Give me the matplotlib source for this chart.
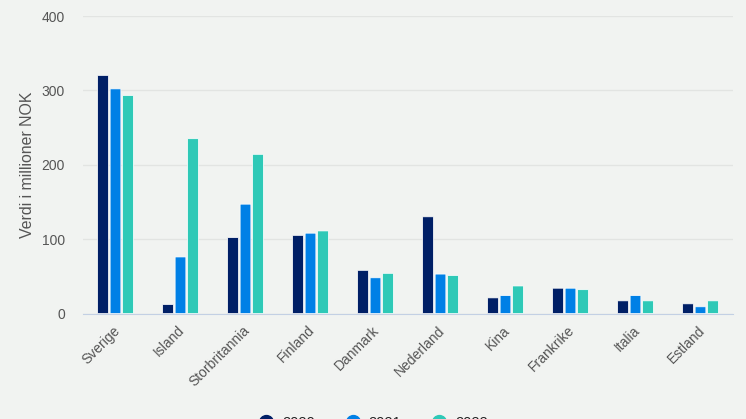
import numpy as np
import matplotlib.pyplot as plt
from matplotlib.transforms import ScaledTranslation

plt.rcParams['font.family'] = ['Liberation Sans', 'DejaVu Sans']

land = ['Sverige', 'Island', 'Storbritannia', 'Finland', 'Danmark',
        'Nederland', 'Kina', 'Frankrike', 'Italia', 'Estland']
v2020 = [320, 12, 102, 105, 58, 130, 21, 34, 17, 13]
v2021 = [302, 76, 147, 108, 48, 53, 24, 34, 24, 9]
v2022 = [293, 235, 214, 111, 54, 51, 37, 32, 17, 17]
serier = ['2020', '2021', '2022']
farger = ['#001f66', '#0080e6', '#2ec9b7']
bg = '#f1f3f1'

W, H = 746, 419
fig = plt.figure(figsize=(W / 100, H / 100), dpi=100, facecolor=bg)
ax = fig.add_axes([83 / W, 1 - 313.5 / H, 650 / W, 297.5 / H], facecolor=bg)

x = np.arange(len(land))
bredde = 0.165
steg = 0.192
for i, (verdier, farge) in enumerate(zip([v2020, v2021, v2022], farger)):
    ax.bar(x + (i - 1) * steg, verdier, bredde, color=farge, edgecolor='white',
           linewidth=0.5, label=serier[i], zorder=3, snap=False)

ax.set_xlim(-0.5, 9.5)
ax.set_ylim(0, 400)
ax.set_yticks([0, 100, 200, 300, 400])
ax.yaxis.grid(True, color='#e2e4e2', linewidth=1)
ax.set_axisbelow(True)
for s in ['top', 'right', 'left']:
    ax.spines[s].set_visible(False)
ax.spines['bottom'].set_color('#c3d0e4')
ax.spines['bottom'].set_zorder(4)

ax.tick_params(axis='y', length=0, pad=13, labelsize=10, labelcolor='#555555')
ax.tick_params(axis='x', length=0, pad=7, labelsize=10, labelcolor='#555555')
ax.set_xticks(x)
ax.set_xticklabels(land, rotation=45, ha='right', rotation_mode='anchor')
flytt = ScaledTranslation(-3 / 100, 0, fig.dpi_scale_trans)
for t in ax.get_xticklabels():
    t.set_transform(t.get_transform() + flytt)
ax.set_ylabel('Verdi i millioner NOK', fontsize=11.4, color='#555555', labelpad=5)

# legenden er kuttet i bunnen av bildet, som i originalen
fig.legend(loc='center', bbox_to_anchor=(369.5 / W, 1 - 423 / H), ncol=3, frameon=False,
           handles=[plt.Line2D([], [], ls='', marker='o', ms=10, color=f) for f in farger],
           labels=serier, fontsize=10.5, handletextpad=0.1, columnspacing=1.6,
           labelcolor='#222222')

fig.savefig('out.png', dpi=100, facecolor=bg)
